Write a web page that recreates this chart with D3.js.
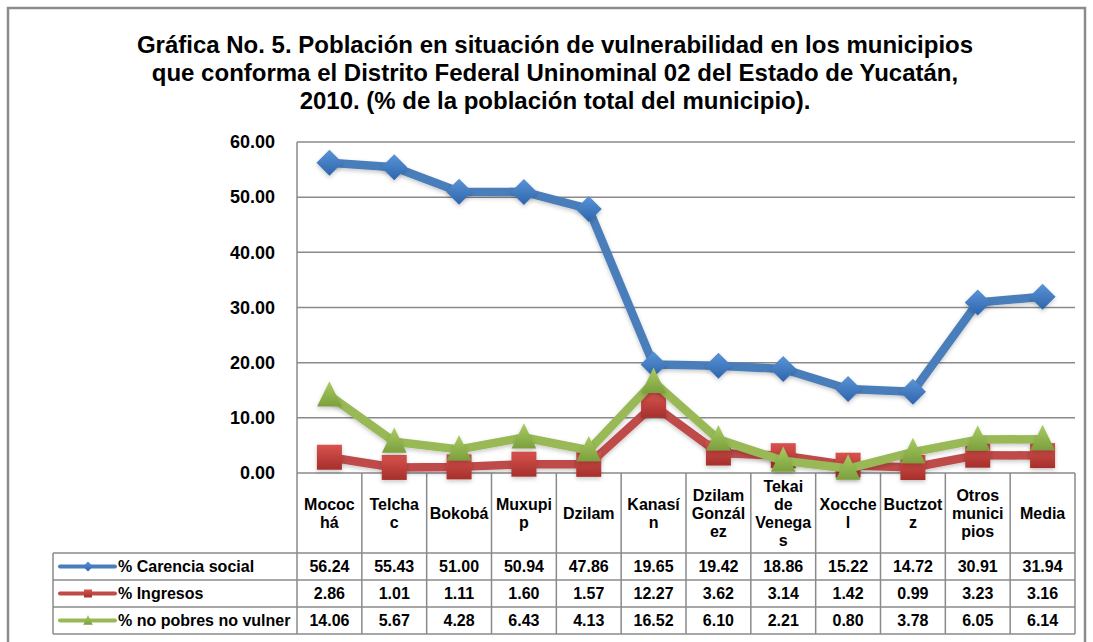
<!DOCTYPE html>
<html>
<head>
<meta charset="utf-8">
<script src="https://cdn.jsdelivr.net/npm/d3@7"></script>
<style>
  html, body { margin: 0; padding: 0; background: #fff; }
  svg { display: block; font-family: Arial, "Liberation Sans", sans-serif; }
</style>
</head>
<body>
<svg id="chart" width="1093" height="642"></svg>
<script>
// ---- data ----
const titleLines = [
  "Gráfica No. 5. Población en situación de vulnerabilidad en los municipios",
  "que conforma el Distrito Federal Uninominal 02 del Estado de Yucatán,",
  "2010. (% de la población total del municipio)."
];
const categories = ["Mocochá", "Telchac", "Bokobá", "Muxupip", "Dzilam", "Kanasín",
  "Dzilam González", "Tekai de Venegas", "Xocchel", "Buctzotz", "Otros municipios", "Media"];
const categoryLabelLines = [
  ["Mococ", "há"], ["Telcha", "c"], ["Bokobá"], ["Muxupi", "p"], ["Dzilam"], ["Kanasí", "n"],
  ["Dzilam", "Gonzál", "ez"], ["Tekai", "de", "Venega", "s"], ["Xocche", "l"], ["Buctzot", "z"],
  ["Otros", "munici", "pios"], ["Media"]
];
const seriesNames = ["% Carencia social", "% Ingresos", "% no pobres no vulner"];
const carenciaSocial = [56.24, 55.43, 51.00, 50.94, 47.86, 19.65, 19.42, 18.86, 15.22, 14.72, 30.91, 31.94];
const ingresos = [2.86, 1.01, 1.11, 1.60, 1.57, 12.27, 3.62, 3.14, 1.42, 0.99, 3.23, 3.16];
const noPobres = [14.06, 5.67, 4.28, 6.43, 4.13, 16.52, 6.10, 2.21, 0.80, 3.78, 6.05, 6.14];
const yTicks = [0, 10, 20, 30, 40, 50, 60];

// ---- layout ----
const svg = d3.select("#chart");
const plot = { left: 297, right: 1075, top: 142, bottom: 473 };
const legendLeft = 53;
const rowH = 27;
const headerBottom = 553;
const gridColor = "#8a8a8a";

const x = d3.scaleBand().domain(categories).range([plot.left, plot.right]);
const y = d3.scaleLinear().domain([0, 60]).range([plot.bottom, plot.top]);

const series = [
  { name: seriesNames[0], values: carenciaSocial, line: "#4a7ebb", c1: "#5b93d6", c2: "#2d65ad", shape: "diamond" },
  { name: seriesNames[1], values: ingresos, line: "#be4b48", c1: "#d9534f", c2: "#a52f2b", shape: "square" },
  { name: seriesNames[2], values: noPobres, line: "#98b954", c1: "#a9cc63", c2: "#7b9f3c", shape: "triangle" }
];

const defs = svg.append("defs");
const shadow = defs.append("filter").attr("id", "shadow").attr("x", "-50%").attr("y", "-50%").attr("width", "200%").attr("height", "200%");
shadow.append("feDropShadow").attr("dx", 0).attr("dy", 2).attr("stdDeviation", 2).attr("flood-color", "#000").attr("flood-opacity", 0.22);
series.forEach((s, i) => {
  const g = defs.append("linearGradient").attr("id", "grad" + i).attr("x1", 0).attr("y1", 0).attr("x2", 0).attr("y2", 1);
  g.append("stop").attr("offset", "0%").attr("stop-color", s.c1);
  g.append("stop").attr("offset", "100%").attr("stop-color", s.c2);
});

// outer border
svg.append("rect").attr("x", 8).attr("y", 8).attr("width", 1077).attr("height", 650)
  .attr("fill", "none").attr("stroke", "#8c8c8c").attr("stroke-width", 2.5);

// title
svg.append("g").selectAll("text").data(titleLines).join("text")
  .attr("x", 555).attr("y", (d, i) => 53 + i * 28)
  .attr("text-anchor", "middle").attr("font-size", 24).attr("font-weight", "bold").attr("fill", "#000")
  .text(d => d);

// gridlines
svg.append("g").selectAll("line").data(yTicks).join("line")
  .attr("x1", plot.left).attr("x2", plot.right)
  .attr("y1", d => y(d)).attr("y2", d => y(d))
  .attr("stroke", gridColor).attr("stroke-width", 1.5);

// y axis
const yAxis = svg.append("g").attr("transform", `translate(${plot.left},0)`)
  .call(d3.axisLeft(y).tickValues(yTicks).tickFormat(d3.format(".2f")).tickSize(0).tickPadding(22));
yAxis.select(".domain").remove();
yAxis.selectAll("text").attr("font-size", 18).attr("font-weight", "bold").attr("fill", "#000")
  .attr("font-family", "Arial, 'Liberation Sans', sans-serif");
svg.append("line").attr("x1", plot.left).attr("x2", plot.left).attr("y1", plot.top).attr("y2", plot.bottom)
  .attr("stroke", gridColor).attr("stroke-width", 1.5);

// table
const tbl = svg.append("g");
const tableBottom = headerBottom + rowH * 3;
const bounds = categories.map(c => x(c)).concat([plot.right]);
tbl.selectAll("line.v").data(bounds).join("line")
  .attr("x1", d => d).attr("x2", d => d).attr("y1", plot.bottom).attr("y2", tableBottom)
  .attr("stroke", gridColor).attr("stroke-width", 1.5);
[headerBottom, headerBottom + rowH, headerBottom + 2 * rowH, tableBottom].forEach(yy => {
  tbl.append("line").attr("x1", legendLeft).attr("x2", plot.right).attr("y1", yy).attr("y2", yy)
    .attr("stroke", gridColor).attr("stroke-width", 1.5);
});
tbl.append("line").attr("x1", legendLeft).attr("x2", legendLeft).attr("y1", headerBottom).attr("y2", tableBottom)
  .attr("stroke", gridColor).attr("stroke-width", 1.5);

// header labels
const lh = 18;
categories.forEach((c, i) => {
  const lines = categoryLabelLines[i];
  const cx = x(c) + x.bandwidth() / 2;
  const cy = (plot.bottom + headerBottom) / 2;
  const t = tbl.append("text").attr("text-anchor", "middle").attr("font-size", 16).attr("font-weight", "bold").attr("fill", "#000");
  lines.forEach((ln, j) => {
    t.append("tspan").attr("x", cx).attr("y", cy + (j - (lines.length - 1) / 2) * lh + 5.5).text(ln);
  });
});

// data cells
series.forEach((s, si) => {
  const cy = headerBottom + rowH * si + rowH / 2 + 5.5;
  tbl.append("g").selectAll("text").data(s.values).join("text")
    .attr("x", (d, i) => x(categories[i]) + x.bandwidth() / 2).attr("y", cy)
    .attr("text-anchor", "middle").attr("font-size", 16).attr("font-weight", "bold").attr("fill", "#000")
    .text(d => d.toFixed(2));
});

// marker shapes
function markerPath(shape, r) {
  if (shape === "diamond") return `M0,${-r}L${r},0L0,${r}L${-r},0Z`;
  if (shape === "square") return `M${-r},${-r}H${r}V${r}H${-r}Z`;
  return `M0,${-r * 1.1}L${r * 0.95},${r * 0.85}L${-r * 0.95},${r * 0.85}Z`;
}

// legend entries
series.forEach((s, si) => {
  const cy = headerBottom + rowH * si + rowH / 2;
  tbl.append("line").attr("x1", 60).attr("x2", 115).attr("y1", cy).attr("y2", cy)
    .attr("stroke", s.line).attr("stroke-width", 4).attr("stroke-linecap", "round");
  tbl.append("path").attr("d", markerPath(s.shape, s.shape === "square" ? 4 : 5))
    .attr("transform", `translate(88,${cy})`).attr("fill", `url(#grad${si})`);
  tbl.append("text").attr("x", 118).attr("y", cy + 5.5).attr("font-size", 16).attr("font-weight", "bold").attr("fill", "#000")
    .text(s.name);
});

// series lines and markers
const line = d3.line().x((d, i) => x(categories[i]) + x.bandwidth() / 2).y(d => y(d));
series.forEach((s, si) => {
  const g = svg.append("g");
  g.append("path").datum(s.values).attr("d", line)
    .attr("fill", "none").attr("stroke", s.line).attr("stroke-width", 8.5).attr("stroke-linejoin", "round")
    .attr("filter", "url(#shadow)");
  g.selectAll("path.m").data(s.values).join("path").attr("class", "m")
    .attr("d", markerPath(s.shape, s.shape === "square" ? 12.5 : 13))
    .attr("transform", (d, i) => `translate(${x(categories[i]) + x.bandwidth() / 2},${y(d)})`)
    .attr("fill", `url(#grad${si})`).attr("filter", "url(#shadow)");
});
</script>
</body>
</html>
